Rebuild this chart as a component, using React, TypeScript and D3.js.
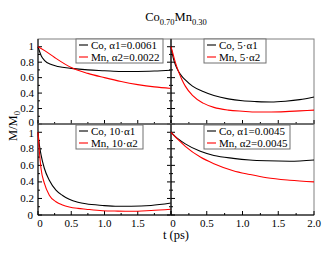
import React from "react";
import * as d3 from "d3";

// time grids and curves
const tTL = [0, 0.05, 0.1, 0.2, 0.3, 0.5, 0.75, 1.0, 1.25, 1.5, 1.75, 2.0];
const coTL = [1.0, 0.88, 0.82, 0.77, 0.745, 0.72, 0.7, 0.69, 0.68, 0.68, 0.685, 0.695];
const tTL2 = [0, 0.1, 0.25, 0.5, 0.75, 1.0, 1.25, 1.5, 1.75, 2.0];
const mnTL = [1.0, 0.95, 0.86, 0.73, 0.655, 0.6, 0.55, 0.51, 0.48, 0.46];

const tTR = [0, 0.03, 0.06, 0.1, 0.15, 0.2, 0.3, 0.45, 0.6, 0.8, 1.0, 1.2, 1.4, 1.6, 1.8, 2.0];
const coTR = [1.0, 0.86, 0.77, 0.69, 0.62, 0.57, 0.49, 0.42, 0.37, 0.325, 0.3, 0.29, 0.285, 0.295, 0.315, 0.35];
const mnTR = [1.0, 0.9, 0.8, 0.69, 0.58, 0.49, 0.37, 0.27, 0.215, 0.18, 0.165, 0.155, 0.155, 0.16, 0.17, 0.18];

const tBL = [0, 0.02, 0.045, 0.095, 0.17, 0.27, 0.37, 0.47, 0.6, 0.72, 0.97, 1.2, 1.4, 1.7, 2.0];
const coBL = [1.0, 0.85, 0.73, 0.565, 0.42, 0.3, 0.235, 0.19, 0.155, 0.135, 0.115, 0.105, 0.105, 0.115, 0.145];
const mnBL = [1.0, 0.77, 0.565, 0.385, 0.24, 0.16, 0.12, 0.097, 0.08, 0.07, 0.052, 0.047, 0.045, 0.055, 0.07];

const tBR = [0, 0.1, 0.2, 0.41, 0.6, 0.87, 1.1, 1.34, 1.66, 2.0];
const coBR = [1.0, 0.92, 0.86, 0.77, 0.72, 0.685, 0.665, 0.655, 0.65, 0.665];
const mnBR = [1.0, 0.91, 0.83, 0.7, 0.62, 0.535, 0.49, 0.45, 0.42, 0.4];

const legendTL = ["Co, α1=0.0061", "Mn, α2=0.0022"];
const legendTR = ["Co, 5·α1", "Mn, 5·α2"];
const legendBL = ["Co, 10·α1", "Mn, 10·α2"];
const legendBR = ["Co, α1=0.0045", "Mn, α2=0.0045"];

const yTicks = [0, 0.2, 0.4, 0.6, 0.8, 1];
const yLabels = ["0", "0.2", "0.4", "0.6", "0.8", "1"];
const xTicks = [0, 0.5, 1.0, 1.5, 2.0];
const xLabelsLeft = ["0", "0.5", "1.0", "1.5"];
const xLabelsRight = ["0", "0.5", "1.0", "1.5", "2.0"];

const FONT = "'Liberation Serif', 'DejaVu Serif', serif";

const xL = d3.scaleLinear().domain([0, 2]).range([38, 171]);
const xR = d3.scaleLinear().domain([0, 2]).range([171, 314]);
const yT = d3.scaleLinear().domain([0, 1.1]).range([124, 39]);
const yB = d3.scaleLinear().domain([0, 1.1]).range([215, 124]);

const panels = [
  { x: xL, y: yT, t1: tTL, co: coTL, t2: tTL2, mn: mnTL, leg: legendTL, lx: 76, lw: 87, left: true, bottom: false },
  { x: xR, y: yT, t1: tTR, co: coTR, t2: tTR, mn: mnTR, leg: legendTR, lx: 204, lw: 62, left: false, bottom: false },
  { x: xL, y: yB, t1: tBL, co: coBL, t2: tBL, mn: mnBL, leg: legendBL, lx: 76, lw: 67, left: true, bottom: true },
  { x: xR, y: yB, t1: tBR, co: coBR, t2: tBR, mn: mnBR, leg: legendBR, lx: 204, lw: 86, left: false, bottom: true },
];

const Panel = ({ p }: { p: (typeof panels)[number] }) => {
  const [x0, x1] = p.x.range();
  const [y0, y1] = p.y.range();
  const line = (ts: number[]) =>
    d3.line<number>()
      .x((d, i) => p.x(ts[i]))
      .y((d) => p.y(d))
      .curve(d3.curveMonotoneX);
  const ly = y1 + (p.bottom ? 1 : 0);
  const labs = p.left ? xLabelsLeft : xLabelsRight;

  return (
    <g>
      {/* frame */}
      <rect x={x0} y={y1} width={x1 - x0} height={y0 - y1} fill="none" stroke="#808080" />
      <line x1={x0} x2={x0} y1={y1} y2={y0} stroke="#000" />
      <line x1={x0} x2={x1} y1={y0} y2={y0} stroke="#000" />

      {/* y ticks, minor 0.1 / major 0.2 */}
      {d3.range(0, 11).map((i) => {
        const yy = p.y(i / 10);
        const len = i % 2 === 0 ? 4 : 2;
        return (
          <g key={"yt" + i}>
            <line x1={x0} x2={x0 + len} y1={yy} y2={yy} stroke="#000" />
            {p.left && <line x1={x1} x2={x1 - len} y1={yy} y2={yy} stroke="#000" />}
          </g>
        );
      })}
      {/* x ticks, minor 0.25 / major 0.5 */}
      {d3.range(0, 9).map((i) => {
        const xx = p.x(i * 0.25);
        const len = i % 2 === 0 ? 4 : 2;
        return <line key={"xt" + i} x1={xx} x2={xx} y1={y0} y2={y0 - len} stroke="#000" />;
      })}

      {p.left &&
        yTicks.map((v, i) => {
          let dy = 3.5;
          if (!p.bottom && v === 0) dy = 2;
          if (p.bottom && v === 1) dy = 5;
          return (
            <text key={"yl" + i} x={p.bottom && v === 0 ? 33 : 34} y={p.y(v) + dy}
              textAnchor="end" fontFamily={FONT} fontSize={11}>
              {yLabels[i]}
            </text>
          );
        })}
      {p.bottom &&
        labs.map((lab, i) => (
          <text key={"xl" + i} x={p.x(xTicks[i]) + (i === 0 ? 2 : 0)} y={227}
            textAnchor="middle" fontFamily={FONT} fontSize={11}>
            {lab}
          </text>
        ))}

      <path d={line(p.t1)(p.co) ?? ""} fill="none" stroke="#000" strokeWidth={1.1} />
      <path d={line(p.t2)(p.mn) ?? ""} fill="none" stroke="#ff0000" strokeWidth={1.1} />

      {/* legend */}
      <rect x={p.lx} y={ly} width={p.lw} height={24} fill="#fff" stroke="#707070" />
      {p.leg.map((lab, i) => {
        const cy = ly + 6 + i * 12;
        return (
          <g key={"lg" + i}>
            <line x1={p.lx + 3} x2={p.lx + 12} y1={cy} y2={cy}
              stroke={i === 0 ? "#000" : "#ff0000"} strokeWidth={1.1} />
            <text x={p.lx + 15} y={cy + 4} fontFamily={FONT} fontSize={11}>
              {lab}
            </text>
          </g>
        );
      })}
    </g>
  );
};

const App = () => (
  <svg width={330} height={255} style={{ position: "absolute", left: 0, top: 0, background: "#fff" }}>
    {panels.map((p, i) => (
      <Panel key={i} p={p} />
    ))}
    <text x={176} y={21} textAnchor="middle" fontFamily={FONT} fontSize={12.5}>
      <tspan>Co</tspan>
      <tspan dy={4} fontSize={8.5}>0.70</tspan>
      <tspan dy={-4}>Mn</tspan>
      <tspan dy={4} fontSize={8.5}>0.30</tspan>
    </text>
    <text transform="translate(17,126) rotate(-90)" textAnchor="middle" fontFamily={FONT} fontSize={12.5}>
      <tspan>M/M</tspan>
      <tspan dy={3} fontSize={8.5}>0</tspan>
    </text>
    <text x={176} y={239} textAnchor="middle" fontFamily={FONT} fontSize={12.5}>
      t (ps)
    </text>
  </svg>
);

export default App;
